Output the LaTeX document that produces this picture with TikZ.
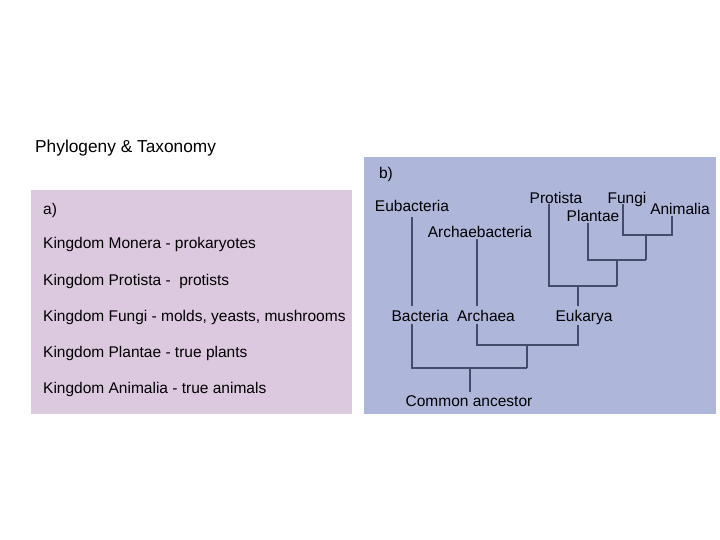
\documentclass[tikz,border=0pt]{standalone}
\usepackage{fontspec}
\setmainfont{Liberation Sans}
\definecolor{pinkbox}{HTML}{DDC9DF}
\definecolor{bluebox}{HTML}{AEB6DA}
\definecolor{treeline}{HTML}{454B6A}
\begin{document}
\begin{tikzpicture}[x=1pt,y=-1pt,
  lbl/.style={font=\fontsize{15.5}{18}\selectfont, inner sep=0pt, text=black, anchor=base},
  listtxt/.style={lbl, anchor=base west},
  branch/.style={draw=treeline, line width=1.6pt}]
\useasboundingbox (0,0) rectangle (720,540);
% panels
\fill[pinkbox] (31,190) rectangle (352,414);
\fill[bluebox] (364,157) rectangle (716,414);
% title
\node[lbl, anchor=base west, font=\fontsize{17.3}{20}\selectfont] (title) at (35,153) {Phylogeny \& Taxonomy};
% left panel list
\node[listtxt] (a) at (43,214.5) {a)};
\node[listtxt] (l1) at (43,248.5) {Kingdom Monera - prokaryotes};
\node[listtxt] (l2) at (43,285.5) {Kingdom Protista -\ \ protists};
\node[listtxt] (l3) at (43,321.5) {Kingdom Fungi - molds, yeasts, mushrooms};
\node[listtxt] (l4) at (43,357.5) {Kingdom Plantae - true plants};
\node[listtxt] (l5) at (43,393.5) {Kingdom Animalia - true animals};
% right panel labels
\node[lbl] (b) at (386,178.5) {b)};
\node[lbl] (eub) at (412,211.5) {Eubacteria};
\node[lbl] (arcb) at (480,237.5) {Archaebacteria};
\node[lbl] (bac) at (420,321.5) {Bacteria};
\node[lbl] (arc) at (486,321.5) {Archaea};
\node[lbl] (euk) at (584,321.5) {Eukarya};
\node[lbl] (pro) at (556,203.5) {Protista};
\node[lbl] (pla) at (593,221.5) {Plantae};
\node[lbl] (fun) at (627,203.5) {Fungi};
\node[lbl] (ani) at (680,214.5) {Animalia};
\node[lbl] (com) at (469,406.5) {Common ancestor};
% junction coordinates
\coordinate (j1) at (470,368);
\coordinate (j2) at (527,345);
\coordinate (j3) at (578,286);
\coordinate (j4) at (617,260);
\coordinate (j5) at (646,235);
% tree
\draw[branch] (412,217) -- (412,306);
\draw[branch] (477,239) -- (477,306);
\draw[branch] (412,324) -- (412,368) -- (527,368);
\draw[branch] (j1) -- (470,392);
\draw[branch] (j2) -- (527,368);
\draw[branch] (477,324) -- (477,345) -- (578,345) -- (578,325);
\draw[branch] (578,306) -- (j3);
\draw[branch] (549,204) -- (549,286) -- (617,286);
\draw[branch] (j4) -- (617,286);
\draw[branch] (588,223) -- (588,260) -- (646,260);
\draw[branch] (j5) -- (646,260);
\draw[branch] (623,204) -- (623,235) -- (672,235) -- (672,216);
\end{tikzpicture}
\end{document}
